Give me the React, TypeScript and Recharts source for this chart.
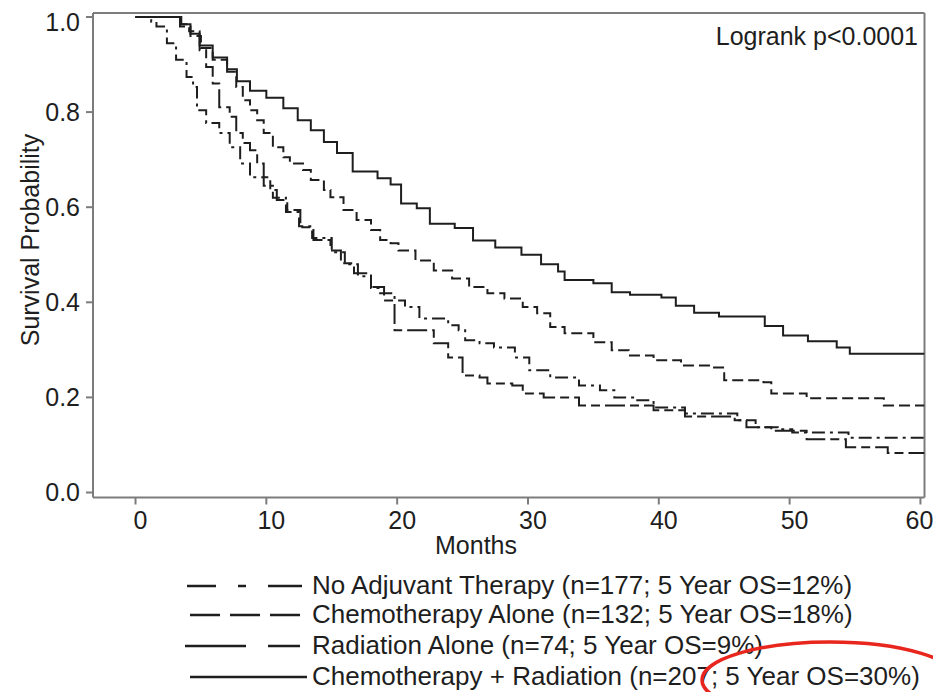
import React from 'react';
import { LineChart, Line, XAxis, YAxis, ReferenceLine } from 'recharts';

// ---- Data ----
const noAdjMonths = [0, 1.2, 1.6, 2.4, 3.1, 3.9, 4.4, 4.7, 5.4, 6.4, 7.2, 8.0, 8.75, 9.8, 10.5, 11.5, 12.5, 13.5, 15.0, 16.0, 17.0, 18.0, 18.7, 19.8, 20.6, 21.7, 23.9, 24.7, 25.2, 26.3, 27.4, 29.0, 30.1, 31.7, 33.9, 35.5, 36.6, 38.2, 39.6, 42.0, 46.0, 47.4, 49.1, 50.2, 54.5, 60.31];
const noAdjSurv = [1.0, 0.99, 0.98, 0.945, 0.91, 0.874, 0.853, 0.804, 0.777, 0.756, 0.726, 0.692, 0.663, 0.645, 0.62, 0.59, 0.56, 0.535, 0.505, 0.48, 0.455, 0.43, 0.419, 0.404, 0.39, 0.366, 0.352, 0.341, 0.32, 0.314, 0.305, 0.284, 0.257, 0.242, 0.225, 0.215, 0.2, 0.194, 0.179, 0.166, 0.152, 0.137, 0.133, 0.126, 0.115, 0.115];

const chemoMonths = [0, 3.4, 4.2, 5.0, 5.9, 7.0, 7.7, 8.2, 8.75, 9.3, 9.8, 10.5, 11.3, 11.8, 12.8, 13.4, 14.4, 14.9, 15.9, 16.9, 18.0, 18.7, 19.5, 20.1, 21.4, 22.8, 24.2, 25.5, 26.9, 28.2, 29.6, 30.7, 31.7, 32.8, 35.0, 36.4, 37.7, 39.6, 41.7, 44.0, 45.0, 48.0, 48.6, 51.3, 57.2, 60.31];
const chemoSurv = [1.0, 0.98, 0.96, 0.935, 0.91, 0.885, 0.853, 0.825, 0.804, 0.783, 0.756, 0.726, 0.705, 0.692, 0.678, 0.657, 0.636, 0.621, 0.594, 0.573, 0.552, 0.531, 0.524, 0.509, 0.488, 0.467, 0.45, 0.432, 0.419, 0.408, 0.39, 0.377, 0.348, 0.335, 0.316, 0.299, 0.288, 0.278, 0.267, 0.263, 0.236, 0.232, 0.208, 0.198, 0.183, 0.183];

const radMonths = [0, 3.5, 4.1, 4.9, 5.4, 5.9, 6.4, 7.2, 7.7, 8.2, 8.75, 9.3, 9.8, 10.3, 10.8, 11.6, 12.6, 13.6, 14.9, 15.7, 16.7, 18.0, 19.0, 19.8, 22.8, 23.9, 25.0, 26.3, 26.9, 28.8, 29.6, 31.2, 33.9, 39.6, 42.0, 45.8, 46.7, 48.6, 51.3, 54.3, 57.5, 60.31];
const radSurv = [1.0, 0.985, 0.97, 0.93, 0.895, 0.86, 0.81, 0.79, 0.756, 0.735, 0.72, 0.692, 0.663, 0.636, 0.615, 0.594, 0.558, 0.531, 0.509, 0.482, 0.461, 0.432, 0.404, 0.341, 0.314, 0.284, 0.246, 0.242, 0.229, 0.225, 0.208, 0.2, 0.183, 0.173, 0.16, 0.152, 0.137, 0.13, 0.112, 0.095, 0.083, 0.083];

const chemoRadMonths = [0, 3.4, 4.2, 4.9, 5.9, 7.0, 7.75, 8.75, 10.0, 11.3, 12.4, 13.4, 14.4, 15.4, 16.6, 18.5, 19.5, 20.3, 21.5, 22.5, 24.4, 25.8, 27.5, 29.5, 31.0, 32.3, 32.8, 35.0, 36.4, 37.8, 40.2, 41.3, 42.7, 44.6, 48.1, 49.5, 51.4, 53.6, 54.6, 60.31];
const chemoRadSurv = [1.0, 0.985, 0.965, 0.94, 0.915, 0.89, 0.865, 0.845, 0.83, 0.808, 0.783, 0.762, 0.737, 0.714, 0.675, 0.661, 0.648, 0.608, 0.598, 0.565, 0.556, 0.53, 0.515, 0.5, 0.48, 0.465, 0.447, 0.44, 0.421, 0.416, 0.41, 0.393, 0.378, 0.37, 0.35, 0.33, 0.318, 0.305, 0.292, 0.292];

const xTicks = [0, 10, 20, 30, 40, 50, 60];
const yTicks = [0, 0.2, 0.4, 0.6, 0.8, 1.0];

const legendLabels = [
  'No Adjuvant Therapy (n=177; 5 Year OS=12%)',
  'Chemotherapy Alone (n=132; 5 Year OS=18%)',
  'Radiation Alone (n=74; 5 Year OS=9%)',
  'Chemotherapy + Radiation (n=207; 5 Year OS=30%)',
];

const X_MIN = -3.25;
const X_MAX = 60.31;
const Y_MIN = -0.0105;
const Y_MAX = 1.0084;

const FONT = '"Liberation Sans", Arial, Helvetica, sans-serif';
const AXIS = '#7c7c7c';
const INK = '#1e1e1e';

const toSeries = (m: number[], s: number[]) => m.map((t, i) => ({ t, s: s[i] }));

const noAdjData = toSeries(noAdjMonths, noAdjSurv);
const chemoData = toSeries(chemoMonths, chemoSurv);
const radData = toSeries(radMonths, radSurv);
const chemoRadData = toSeries(chemoRadMonths, chemoRadSurv);

const legendRows = [
  { label: legendLabels[0], x1: 179, x2: 294, dash: '29 22 8 22 34' },
  { label: legendLabels[1], x1: 182, x2: 292, dash: '30 10' },
  { label: legendLabels[2], x1: 177, x2: 292, dash: '61 22 32 100' },
  { label: legendLabels[3], x1: 182, x2: 299, dash: undefined as string | undefined },
];
const legendBaselines = [586, 615, 646, 677];

const lastXTick = xTicks[xTicks.length - 1];

const XTick = (props: any) => {
  const { x, y, payload } = props;
  const last = Number(payload.value) === lastXTick;
  return (
    <text x={x + (last ? -1 : 5)} y={y} dy="0.72em" textAnchor="middle" fontSize={25} fontFamily={FONT} fill={INK}>
      {payload.value}
    </text>
  );
};

export default function App() {
  return (
    <div style={{ position: 'relative', width: 933, height: 692, overflow: 'hidden' }}>
      <style>{'body{margin:0;}'}</style>
      <div style={{ position: 'absolute', left: 8, top: 8, width: 933, height: 684 }}>
        <LineChart width={933} height={684} margin={{ top: 5, right: 16.5, left: 0, bottom: 0 }}>
          <XAxis
            type="number"
            dataKey="t"
            domain={[X_MIN, X_MAX]}
            ticks={xTicks}
            allowDataOverflow
            height={194.5}
            axisLine={{ stroke: AXIS, strokeWidth: 2 }}
            tickLine={{ stroke: AXIS, strokeWidth: 2 }}
            tickSize={7}
            tickMargin={6}
            tick={<XTick />}
          />
          <YAxis
            type="number"
            domain={[Y_MIN, Y_MAX]}
            ticks={yTicks}
            allowDataOverflow
            width={85}
            axisLine={{ stroke: AXIS, strokeWidth: 2 }}
            tickLine={{ stroke: AXIS, strokeWidth: 2 }}
            tickSize={7}
            tickMargin={6}
            tickFormatter={(v: number) => v.toFixed(1)}
            tick={{ fill: INK, fontSize: 25, fontFamily: FONT }}
          />
          <ReferenceLine y={Y_MAX} stroke={AXIS} strokeWidth={2} />
          <ReferenceLine x={X_MAX} stroke={AXIS} strokeWidth={2} />
          <Line data={noAdjData} dataKey="s" type="stepAfter" stroke={INK} strokeWidth={2} strokeDasharray="13 5 3 5" dot={false} activeDot={false} isAnimationActive={false} />
          <Line data={chemoData} dataKey="s" type="stepAfter" stroke={INK} strokeWidth={2} strokeDasharray="11 5" dot={false} activeDot={false} isAnimationActive={false} />
          <Line data={radData} dataKey="s" type="stepAfter" stroke={INK} strokeWidth={2} strokeDasharray="20 5 9 5" dot={false} activeDot={false} isAnimationActive={false} />
          <Line data={chemoRadData} dataKey="s" type="stepAfter" stroke={INK} strokeWidth={2} dot={false} activeDot={false} isAnimationActive={false} />
        </LineChart>
        <svg width={933} height={684} style={{ position: 'absolute', left: 0, top: 0, pointerEvents: 'none' }}>
          <text x={910} y={37} textAnchor="end" fontSize={25} fontFamily={FONT} fill={INK}>Logrank p&lt;0.0001</text>
          <text x={468} y={546} textAnchor="middle" fontSize={25} fontFamily={FONT} fill={INK}>Months</text>
          <text transform="translate(31,232) rotate(-90)" textAnchor="middle" fontSize={25} fontFamily={FONT} fill={INK}>Survival Probability</text>
          {legendRows.map((r, i) => (
            <g key={i}>
              <line x1={r.x1} x2={r.x2} y1={legendBaselines[i] - 8} y2={legendBaselines[i] - 8} stroke={INK} strokeWidth={2.6} strokeDasharray={r.dash} />
              <text x={304} y={legendBaselines[i]} fontSize={26} fontFamily={FONT} fill={INK}>{r.label}</text>
            </g>
          ))}
          <ellipse cx={822} cy={672} rx={128} ry={38} fill="none" stroke="#e8261e" strokeWidth={3.5} />
        </svg>
      </div>
    </div>
  );
}
